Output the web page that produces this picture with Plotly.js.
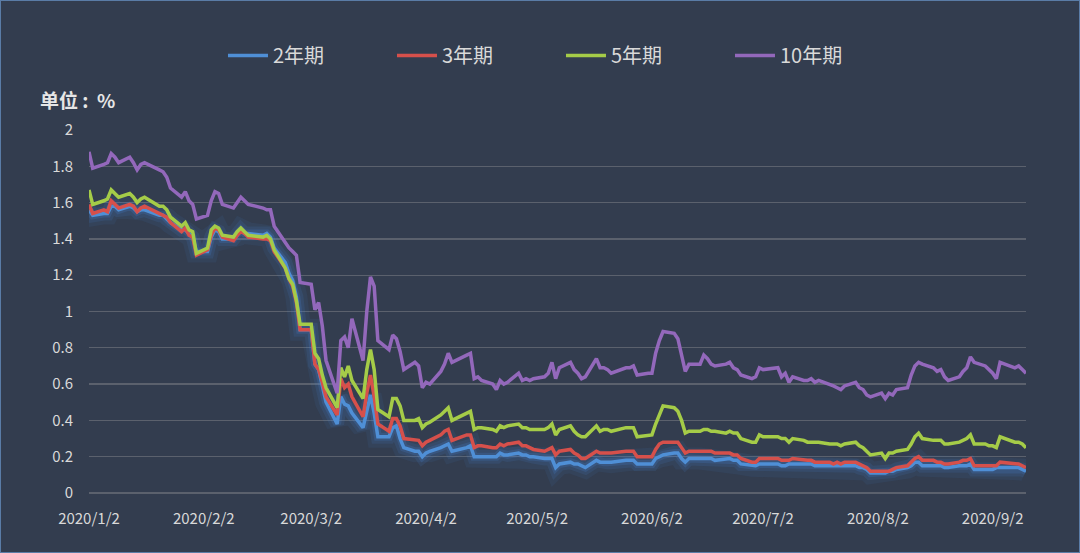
<!DOCTYPE html>
<html>
<head>
<meta charset="utf-8">
<script src="https://cdn.plot.ly/plotly-3.0.1.min.js"></script>
<style>
  html, body { margin: 0; padding: 0; background: #333d4f; }
  #chart { width: 1080px; height: 553px; box-sizing: border-box; border: 1px solid #5a7ca6; }
</style>
</head>
<body>
<div id="chart"></div>
<script>
// trading days, 2020/1/2 - 2020/9/11
var dates = [
  "2020-01-02","2020-01-03","2020-01-06","2020-01-07","2020-01-08","2020-01-09","2020-01-10","2020-01-13","2020-01-14","2020-01-15","2020-01-16","2020-01-17","2020-01-21","2020-01-22","2020-01-23","2020-01-24","2020-01-27","2020-01-28","2020-01-29","2020-01-30","2020-01-31",
  "2020-02-03","2020-02-04","2020-02-05","2020-02-06","2020-02-07","2020-02-10","2020-02-11","2020-02-12","2020-02-13","2020-02-14","2020-02-18","2020-02-19","2020-02-20","2020-02-21","2020-02-24","2020-02-25","2020-02-26","2020-02-27","2020-02-28",
  "2020-03-02","2020-03-03","2020-03-04","2020-03-05","2020-03-06","2020-03-09","2020-03-10","2020-03-11","2020-03-12","2020-03-13","2020-03-16","2020-03-17","2020-03-18","2020-03-19","2020-03-20","2020-03-23","2020-03-24","2020-03-25","2020-03-26","2020-03-27","2020-03-30","2020-03-31",
  "2020-04-01","2020-04-02","2020-04-03","2020-04-06","2020-04-07","2020-04-08","2020-04-09","2020-04-13","2020-04-14","2020-04-15","2020-04-16","2020-04-17","2020-04-20","2020-04-21","2020-04-22","2020-04-23","2020-04-24","2020-04-27","2020-04-28","2020-04-29","2020-04-30",
  "2020-05-01","2020-05-04","2020-05-05","2020-05-06","2020-05-07","2020-05-08","2020-05-11","2020-05-12","2020-05-13","2020-05-14","2020-05-15","2020-05-18","2020-05-19","2020-05-20","2020-05-21","2020-05-22","2020-05-26","2020-05-27","2020-05-28","2020-05-29",
  "2020-06-01","2020-06-02","2020-06-03","2020-06-04","2020-06-05","2020-06-08","2020-06-09","2020-06-10","2020-06-11","2020-06-12","2020-06-15","2020-06-16","2020-06-17","2020-06-18","2020-06-19","2020-06-22","2020-06-23","2020-06-24","2020-06-25","2020-06-26","2020-06-29","2020-06-30",
  "2020-07-01","2020-07-02","2020-07-06","2020-07-07","2020-07-08","2020-07-09","2020-07-10","2020-07-13","2020-07-14","2020-07-15","2020-07-16","2020-07-17","2020-07-20","2020-07-21","2020-07-22","2020-07-23","2020-07-24","2020-07-27","2020-07-28","2020-07-29","2020-07-30","2020-07-31",
  "2020-08-03","2020-08-04","2020-08-05","2020-08-06","2020-08-07","2020-08-10","2020-08-11","2020-08-12","2020-08-13","2020-08-14","2020-08-17","2020-08-18","2020-08-19","2020-08-20","2020-08-21","2020-08-24","2020-08-25","2020-08-26","2020-08-27","2020-08-28","2020-08-31",
  "2020-09-01","2020-09-02","2020-09-03","2020-09-04","2020-09-08","2020-09-09","2020-09-10","2020-09-11"
];

var y2 = [
  1.56,1.53,1.54,1.54,1.58,1.58,1.56,1.58,1.57,1.55,1.56,1.56,1.53,1.53,1.51,1.49,1.45,1.45,1.43,1.41,1.33,
  1.33,1.41,1.45,1.44,1.40,1.40,1.42,1.45,1.43,1.43,1.42,1.43,1.41,1.35,1.27,1.21,1.17,1.08,0.90,
  0.90,0.71,0.68,0.59,0.50,0.38,0.53,0.49,0.48,0.44,0.36,0.45,0.54,0.44,0.31,0.31,0.36,0.37,0.30,0.25,0.23,0.23,
  0.20,0.22,0.23,0.25,0.26,0.27,0.23,0.25,0.26,0.20,0.20,0.20,0.20,0.20,0.22,0.21,0.21,0.22,0.21,0.21,0.20,
  0.20,0.19,0.19,0.19,0.14,0.16,0.17,0.16,0.16,0.15,0.14,0.18,0.17,0.17,0.17,0.17,0.18,0.18,0.18,0.16,
  0.16,0.16,0.19,0.20,0.21,0.22,0.22,0.19,0.17,0.19,0.19,0.19,0.19,0.19,0.18,0.19,0.19,0.18,0.18,0.16,0.15,0.15,
  0.16,0.16,0.16,0.15,0.15,0.16,0.16,0.16,0.16,0.16,0.15,0.15,0.15,0.15,0.15,0.15,0.15,0.15,0.14,0.14,0.13,0.11,
  0.11,0.11,0.12,0.12,0.13,0.14,0.15,0.17,0.17,0.15,0.15,0.15,0.15,0.14,0.14,0.15,0.15,0.15,0.16,0.13,0.13,
  0.13,0.13,0.14,0.14,0.14,0.14,0.13,0.12
];

var y3 = [
  1.59,1.54,1.56,1.55,1.61,1.59,1.57,1.59,1.58,1.55,1.57,1.58,1.54,1.53,1.52,1.49,1.44,1.46,1.42,1.41,1.31,
  1.34,1.42,1.46,1.45,1.41,1.39,1.42,1.44,1.43,1.41,1.40,1.40,1.39,1.33,1.24,1.18,1.14,1.05,0.90,
  0.90,0.71,0.68,0.61,0.53,0.43,0.63,0.58,0.60,0.53,0.42,0.55,0.65,0.53,0.38,0.34,0.41,0.41,0.37,0.30,0.29,0.29,
  0.26,0.28,0.29,0.32,0.34,0.35,0.29,0.32,0.32,0.25,0.26,0.26,0.25,0.25,0.27,0.26,0.27,0.28,0.26,0.26,0.25,
  0.24,0.23,0.24,0.25,0.21,0.23,0.24,0.22,0.21,0.19,0.19,0.23,0.22,0.22,0.22,0.22,0.23,0.23,0.23,0.20,
  0.20,0.20,0.24,0.27,0.28,0.28,0.28,0.25,0.22,0.23,0.23,0.23,0.23,0.23,0.22,0.22,0.22,0.21,0.21,0.19,0.17,0.17,
  0.19,0.19,0.19,0.18,0.18,0.18,0.19,0.18,0.18,0.18,0.17,0.17,0.17,0.16,0.17,0.16,0.17,0.17,0.16,0.15,0.14,0.12,
  0.12,0.12,0.12,0.13,0.14,0.15,0.17,0.19,0.20,0.18,0.18,0.17,0.17,0.16,0.16,0.17,0.18,0.18,0.19,0.15,0.15,
  0.15,0.15,0.15,0.17,0.16,0.16,0.15,0.14
];

var y5 = [
  1.67,1.59,1.61,1.62,1.67,1.65,1.63,1.65,1.63,1.60,1.62,1.63,1.58,1.58,1.56,1.52,1.47,1.49,1.45,1.44,1.32,
  1.35,1.45,1.47,1.46,1.42,1.41,1.44,1.46,1.44,1.42,1.41,1.42,1.40,1.34,1.24,1.18,1.15,1.06,0.93,
  0.93,0.77,0.74,0.65,0.58,0.47,0.69,0.64,0.70,0.62,0.52,0.68,0.79,0.68,0.46,0.42,0.52,0.52,0.48,0.40,0.40,0.41,
  0.36,0.38,0.39,0.43,0.45,0.47,0.40,0.44,0.45,0.35,0.36,0.36,0.35,0.34,0.37,0.36,0.37,0.38,0.36,0.36,0.35,
  0.35,0.35,0.36,0.38,0.32,0.35,0.37,0.34,0.32,0.31,0.31,0.37,0.34,0.35,0.35,0.34,0.36,0.36,0.36,0.31,
  0.32,0.32,0.38,0.43,0.48,0.47,0.45,0.40,0.33,0.34,0.34,0.35,0.35,0.34,0.34,0.33,0.34,0.33,0.33,0.30,0.28,0.28,
  0.32,0.31,0.31,0.30,0.30,0.28,0.30,0.29,0.28,0.28,0.28,0.28,0.27,0.27,0.27,0.26,0.27,0.28,0.26,0.25,0.23,0.21,
  0.22,0.19,0.22,0.22,0.23,0.24,0.27,0.31,0.33,0.30,0.29,0.29,0.29,0.27,0.27,0.28,0.29,0.30,0.32,0.27,0.27,
  0.26,0.26,0.25,0.31,0.28,0.28,0.27,0.25
];

var y10 = [
  1.88,1.79,1.81,1.82,1.87,1.85,1.82,1.85,1.82,1.78,1.81,1.82,1.78,1.77,1.74,1.68,1.63,1.66,1.61,1.59,1.51,
  1.53,1.61,1.66,1.65,1.59,1.57,1.60,1.63,1.61,1.59,1.57,1.56,1.56,1.47,1.38,1.35,1.33,1.31,1.16,
  1.15,1.01,1.05,0.92,0.73,0.55,0.84,0.86,0.80,0.96,0.73,1.00,1.19,1.14,0.84,0.79,0.87,0.85,0.78,0.68,0.72,0.70,
  0.58,0.61,0.60,0.67,0.71,0.77,0.72,0.76,0.77,0.63,0.64,0.62,0.60,0.57,0.62,0.60,0.61,0.66,0.62,0.63,0.62,
  0.63,0.64,0.66,0.72,0.63,0.69,0.72,0.68,0.66,0.63,0.64,0.74,0.69,0.69,0.68,0.66,0.69,0.69,0.70,0.65,
  0.66,0.66,0.77,0.84,0.89,0.88,0.85,0.76,0.67,0.71,0.71,0.76,0.74,0.71,0.70,0.71,0.72,0.69,0.68,0.65,0.63,0.64,
  0.69,0.68,0.69,0.64,0.66,0.61,0.64,0.62,0.62,0.63,0.61,0.62,0.60,0.59,0.58,0.57,0.59,0.61,0.58,0.57,0.54,0.53,
  0.55,0.52,0.55,0.54,0.57,0.58,0.65,0.70,0.72,0.71,0.69,0.67,0.68,0.64,0.62,0.64,0.67,0.69,0.75,0.72,0.70,
  0.68,0.66,0.63,0.72,0.69,0.70,0.68,0.66
];

var seriesNames = ["2年期", "3年期", "5年期", "10年期"];
var seriesColors = ["#4f8fd6", "#d6504b", "#a5cc48", "#9368bb"];
var seriesData = [y2, y3, y5, y10];

var tickDates = ["2020-01-02","2020-02-02","2020-03-02","2020-04-02","2020-05-02","2020-06-02","2020-07-02","2020-08-02","2020-09-02"];
var tickLabels = ["2020/1/2","2020/2/2","2020/3/2","2020/4/2","2020/5/2","2020/6/2","2020/7/2","2020/8/2","2020/9/2"];

var fontFam = "'Noto Sans CJK SC', 'Open Sans', sans-serif";

var traces = [];

// soft blue glow under the lower lines
[[22, 0.08], [14, 0.12], [8, 0.18]].forEach(function (g) {
  traces.push({
    x: dates, y: y2, type: "scatter", mode: "lines",
    line: { color: "rgba(70,140,225," + g[1] + ")", width: g[0] },
    hoverinfo: "skip", showlegend: false
  });
});

for (var i = 0; i < seriesNames.length; i++) {
  traces.push({
    x: dates,
    y: seriesData[i],
    name: seriesNames[i],
    type: "scatter",
    mode: "lines",
    line: { color: seriesColors[i], width: 3.5 }
  });
}

var layout = {
  width: 1078,
  height: 551,
  paper_bgcolor: "#333d4f",
  plot_bgcolor: "#333d4f",
  margin: { l: 88, r: 53, t: 129, b: 59 },
  font: { family: fontFam, color: "#d9d9d9" },
  showlegend: true,
  legend: {
    orientation: "h",
    x: 0.143, xanchor: "left",
    y: 1.205, yanchor: "middle",
    font: { size: 20, color: "#d9d9d9", family: fontFam },
    entrywidth: 114,
    itemwidth: 40,
    bgcolor: "rgba(0,0,0,0)"
  },
  xaxis: {
    type: "date",
    range: ["2020-01-02", "2020-09-11"],
    tickvals: tickDates,
    ticktext: tickLabels,
    showgrid: false,
    zeroline: false,
    showline: false,
    ticks: "outside",
    ticklen: 12,
    tickcolor: "rgba(0,0,0,0)",
    tickfont: { size: 15, color: "#d9d9d9", family: fontFam }
  },
  yaxis: {
    range: [0, 2],
    dtick: 0.2,
    tickformat: "~g",
    showgrid: true,
    gridcolor: "#5b616d",
    gridwidth: 1.3,
    zeroline: true,
    zerolinecolor: "#5b616d",
    zerolinewidth: 1.3,
    showline: false,
    ticks: "outside",
    ticklen: 12,
    tickcolor: "rgba(0,0,0,0)",
    tickfont: { size: 15, color: "#d9d9d9", family: fontFam }
  },
  annotations: [{
    text: "<b>单位&nbsp;:&nbsp;&nbsp;%</b>",
    xref: "paper", yref: "paper",
    x: -0.054, xanchor: "left",
    y: 1.083, yanchor: "middle",
    showarrow: false,
    font: { size: 19, color: "#e6e6e6", family: fontFam }
  }]
};

Plotly.newPlot("chart", traces, layout, { displayModeBar: false, staticPlot: true });
</script>
</body>
</html>
